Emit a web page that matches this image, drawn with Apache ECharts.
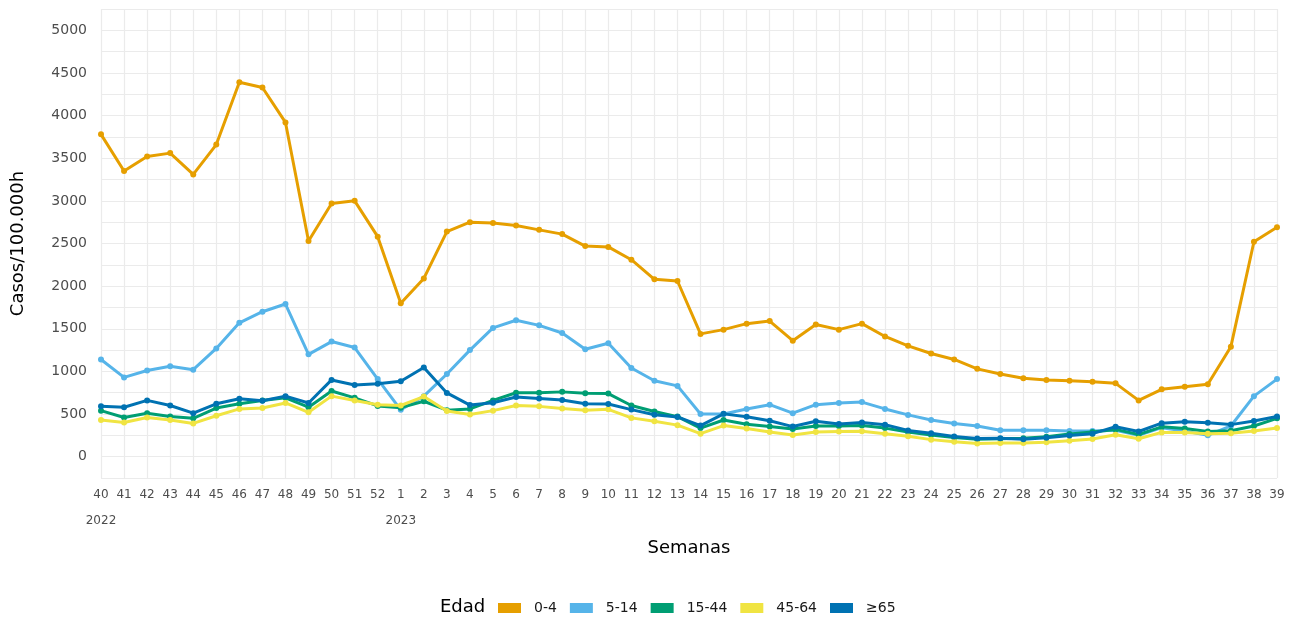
<!DOCTYPE html>
<html>
<head>
<meta charset="utf-8">
<script src="https://cdn.jsdelivr.net/npm/echarts@6/dist/echarts.min.js"></script>
<style>
  html, body { margin: 0; padding: 0; background: #fff; }
  #chart { width: 1298px; height: 622px; }
</style>
</head>
<body>
<div id="chart"></div>
<script>
// semanas epidemiológicas (temporada 2022-2023)
var semanas = ['40','41','42','43','44','45','46','47','48','49','50','51','52',
  '1','2','3','4','5','6','7','8','9','10','11','12','13','14','15','16','17','18','19','20',
  '21','22','23','24','25','26','27','28','29','30','31','32','33','34','35','36','37','38','39'];
// año que se pone debajo de la semana
var anios = { '40': '2022', '1': '2023' };

var grupos = ['0-4', '5-14', '15-44', '45-64', '≥65'];
var colores = ['#E69F00', '#56B4E9', '#009E73', '#F0E442', '#0072B2'];

var edad0_4 = [3780, 3350, 3520, 3560, 3310, 3660, 4390, 4330, 3920, 2530, 2970, 3000, 2580,
  1800, 2090, 2640, 2750, 2740, 2710, 2660, 2610, 2470, 2460, 2310, 2080, 2060, 1440, 1490, 1560, 1590, 1360, 1550, 1490,
  1560, 1410, 1300, 1210, 1140, 1030, 970, 920, 900, 890, 880, 860, 660, 790, 820, 850, 1290, 2520, 2690];
var edad5_14 = [1140, 930, 1010, 1060, 1020, 1270, 1570, 1700, 1790, 1200, 1350, 1280, 910,
  550, 710, 970, 1250, 1510, 1600, 1540, 1450, 1260, 1330, 1040, 890, 830, 500, 500, 560, 610, 510, 610, 630,
  640, 560, 490, 430, 390, 360, 310, 310, 310, 300, 300, 310, 250, 340, 300, 250, 360, 710, 910];
var edad15_44 = [540, 460, 510, 470, 450, 570, 620, 660, 690, 580, 770, 690, 595,
  575, 650, 545, 560, 660, 750, 750, 760, 745, 740, 600, 530, 470, 335, 430, 380, 355, 325, 360, 360,
  365, 335, 290, 255, 225, 205, 210, 215, 235, 265, 290, 320, 260, 350, 330, 295, 305, 360, 450];
var edad45_64 = [430, 400, 460, 430, 390, 480, 560, 570, 630, 520, 710, 660, 610,
  600, 705, 535, 495, 540, 600, 590, 565, 545, 555, 455, 415, 370, 270, 365, 330, 290, 255, 290, 295,
  298, 270, 240, 200, 175, 155, 160, 160, 168, 188, 207, 258, 211, 285, 285, 270, 275, 300, 336];
var edad65 = [590, 580, 660, 600, 510, 620, 680, 655, 710, 630, 900, 840, 855,
  885, 1045, 748, 605, 632, 699, 682, 664, 620, 617, 552, 492, 466, 365, 502, 468, 422, 353, 415, 383,
  402, 375, 308, 274, 236, 213, 215, 205, 222, 248, 270, 352, 295, 393, 410, 398, 376, 418, 472];

var valores = [edad0_4, edad5_14, edad15_44, edad45_64, edad65];

var fuente = 'DejaVu Sans';

var series = grupos.map(function (g, i) {
  return {
    name: g,
    type: 'line',
    data: valores[i],
    symbol: 'circle',
    symbolSize: 6,
    showSymbol: true,
    itemStyle: { color: colores[i] },
    lineStyle: { color: colores[i], width: 3 },
    emphasis: { disabled: true },
    z: 2 + i
  };
});

var myChart = echarts.init(document.getElementById('chart'), null, { renderer: 'canvas' });
myChart.setOption({
  animation: false,
  backgroundColor: '#ffffff',
  grid: { left: 101, right: 21, top: 9, bottom: 144, containLabel: false },
  graphic: [{
    type: 'text',
    left: 440,
    top: 598,
    style: { text: 'Edad', font: '18px "' + fuente + '"', fill: '#000' }
  }],
  legend: {
    data: grupos,
    left: 493,
    top: 596,
    icon: 'rect',
    itemWidth: 23,
    itemHeight: 10,
    itemGap: 13,
    selectedMode: false,
    textStyle: { fontFamily: fuente, fontSize: 14, color: '#1a1a1a', padding: [0, 0, 0, 8] }
  },
  xAxis: {
    type: 'category',
    data: semanas,
    boundaryGap: false,
    name: 'Semanas',
    nameLocation: 'middle',
    nameGap: 61,
    nameTextStyle: { fontFamily: fuente, fontSize: 18, color: '#000' },
    axisLine: { show: false },
    axisTick: { show: false },
    axisLabel: {
      interval: 0,
      margin: 4,
      fontFamily: fuente,
      fontSize: 12,
      color: '#4d4d4d',
      lineHeight: 26,
      formatter: function (v) {
        return anios[v] ? v + '\n{y|' + anios[v] + '}' : v;
      },
      rich: { y: { fontFamily: fuente, fontSize: 12, color: '#4d4d4d', lineHeight: 26 } }
    },
    splitLine: { show: true, lineStyle: { color: '#ebebeb', width: 1.2 } }
  },
  yAxis: {
    type: 'value',
    min: -250,
    max: 5250,
    interval: 250,
    name: 'Casos/100.000h',
    nameLocation: 'middle',
    nameGap: 74,
    nameTextStyle: { fontFamily: fuente, fontSize: 18, color: '#000' },
    axisLine: { show: false },
    axisTick: { show: false },
    axisLabel: {
      margin: 14,
      fontFamily: fuente,
      fontSize: 14,
      color: '#4d4d4d',
      formatter: function (v) {
        return (v >= 0 && v % 500 === 0) ? String(v) : '';
      }
    },
    splitLine: { show: true, lineStyle: { color: '#ebebeb', width: 1.2 } }
  },
  series: series
});
</script>
</body>
</html>
